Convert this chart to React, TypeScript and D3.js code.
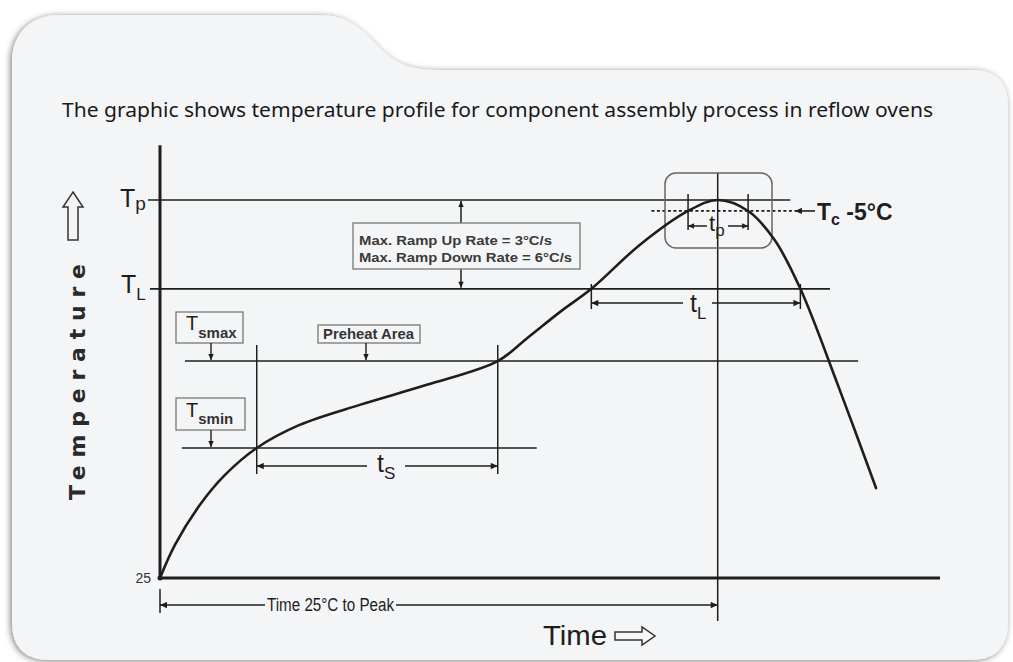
import React from 'react';
import * as d3 from 'd3';

// ---- data (abstract units: time 0..100, temperature 0..100 above 25°C) ----
const profileTime = [0, 1.9, 5.1, 8.3, 12.4, 17.9, 25.6, 34.2, 43.3, 47.1, 51.3, 55.3, 61.5, 67.7, 71.5, 75.4, 78.8, 82.1, 86.9, 91.8];
const profileTemp = [0, 8.7, 19.3, 27.2, 34.4, 40.5, 45.8, 51.1, 57.4, 63.5, 70.4, 76.5, 88.1, 97.1, 100, 97.1, 89.4, 76.5, 51.1, 23.8];

const levelNames = ['Tp', 'TL', 'Tsmax', 'Tsmin', 'Tc'];
const levelValues = [100, 76.5, 57.4, 34.4, 97.1];

const timeMarkNames = ['tsStart', 'tsEnd', 'tLStart', 'tLEnd', 'tpStart', 'tpEnd', 'peak'];
const timeMarkValues = [12.4, 43.3, 55.3, 82.1, 67.7, 75.4, 71.5];

const titleText = 'The graphic shows temperature profile for component assembly process in reflow ovens';
const rampLines = ['Max. Ramp Up Rate = 3°C/s', 'Max. Ramp Down Rate = 6°C/s'];
const baseLabel = '25';

const lv = (n: string) => levelValues[levelNames.indexOf(n)];
const tm = (n: string) => timeMarkValues[timeMarkNames.indexOf(n)];

const ARIAL = 'Liberation Sans, Arial, sans-serif';
const INK = '#1e1e1e';

export default function App() {
  const W = 1013, H = 662;
  const x = d3.scaleLinear().domain([0, 100]).range([160, 940]);
  const y = d3.scaleLinear().domain([0, 100]).range([578, 200]);

  const pts: [number, number][] = profileTime.map((t, i) => [t, profileTemp[i]]);
  const line = d3.line<[number, number]>().x(d => x(d[0])).y(d => y(d[1])).curve(d3.curveCatmullRom.alpha(0.5));

  const yTp = y(lv('Tp')), yTL = y(lv('TL')), ySmax = y(lv('Tsmax')), ySmin = y(lv('Tsmin')), yTc = y(lv('Tc'));
  const xTs0 = x(tm('tsStart')), xTs1 = x(tm('tsEnd'));
  const xTL0 = x(tm('tLStart')), xTL1 = x(tm('tLEnd'));
  const xTp0 = x(tm('tpStart')), xTp1 = x(tm('tpEnd'));
  const xPk = x(tm('peak'));
  const x0 = x(0), y0 = y(0);

  const card = 'M12,62 C12,34 30,15 60,15 L318,15 C350,15 362,30 378,46 C394,62 406,70 440,70 L972,70 Q1008,70 1008,106 L1008,622 Q1008,660 970,660 L50,660 Q12,660 12,622 Z';

  return (
    <svg width={W} height={H} style={{ position: 'absolute', left: 0, top: 0, display: 'block' }}>
      <defs>
        <filter id="shd" x="-5%" y="-5%" width="110%" height="110%">
          <feDropShadow dx="-1.5" dy="1" stdDeviation="3" floodColor="#000" floodOpacity="0.5" />
        </filter>
        <marker id="ah" viewBox="0 0 10 10" refX="10" refY="5" markerUnits="userSpaceOnUse" markerWidth="9" markerHeight="7" orient="auto-start-reverse">
          <path d="M0,0.5 L10,5 L0,9.5 z" fill={INK} />
        </marker>
        <marker id="ahs" viewBox="0 0 10 10" refX="10" refY="5" markerUnits="userSpaceOnUse" markerWidth="7" markerHeight="6" orient="auto-start-reverse">
          <path d="M0,0.5 L10,5 L0,9.5 z" fill={INK} />
        </marker>
      </defs>
      <rect width={W} height={H} fill="#ffffff" />
      <path d={card} fill="#f4f5f7" filter="url(#shd)" />

      <text x={62} y={117} fontFamily="Noto Sans, Open Sans, sans-serif" fontSize={19} fill="#1a1a1a" textLength={871} lengthAdjust="spacingAndGlyphs">{titleText}</text>

      {/* axes */}
      <line x1={x0} y1={y0 + 1} x2={x0} y2={y(114.5)} stroke={INK} strokeWidth={3} />
      <line x1={x0} y1={y0} x2={x(100)} y2={y0} stroke={INK} strokeWidth={3.2} />
      <circle cx={x0} cy={y0} r={2.5} fill={INK} />
      <text x={151} y={y0 + 5} textAnchor="end" fontFamily={ARIAL} fontSize={14} fill="#333">{baseLabel}</text>

      {/* level lines */}
      <line x1={148} y1={yTp} x2={x(80.8)} y2={yTp} stroke={INK} strokeWidth={1.6} />
      <line x1={150} y1={yTL} x2={x(85.9)} y2={yTL} stroke={INK} strokeWidth={1.6} />
      <line x1={x(3.2)} y1={ySmax} x2={x(89.5)} y2={ySmax} stroke={INK} strokeWidth={1.6} />
      <line x1={x(2.8)} y1={ySmin} x2={x(48.3)} y2={ySmin} stroke={INK} strokeWidth={1.6} />
      <line x1={x(63)} y1={yTc} x2={x(81.4)} y2={yTc} stroke={INK} strokeWidth={1.8} strokeDasharray="3,2.5" />
      <line x1={815} y1={yTc} x2={x(81.4)} y2={yTc} stroke={INK} strokeWidth={1.6} markerEnd="url(#ah)" />

      {/* level labels */}
      <text x={120} y={207} fontFamily={ARIAL} fontSize={25} fill={INK}>T<tspan fontSize={19} dy={3}>p</tspan></text>
      <text x={121} y={293} fontFamily={ARIAL} fontSize={25} fill={INK}>T<tspan fontSize={17} dy={7}>L</tspan></text>
      <text x={817} y={220} fontFamily={ARIAL} fontSize={23} fontWeight="bold" fill={INK}>T<tspan fontSize={16} dy={5}>c</tspan><tspan dy={-5}> -5°C</tspan></text>

      {/* vertical markers */}
      <line x1={xTs0} y1={345} x2={xTs0} y2={474} stroke={INK} strokeWidth={1.5} />
      <line x1={xTs1} y1={345} x2={xTs1} y2={474} stroke={INK} strokeWidth={1.5} />
      <line x1={xTL0} y1={284} x2={xTL0} y2={309} stroke={INK} strokeWidth={1.5} />
      <line x1={xTL1} y1={284} x2={xTL1} y2={309} stroke={INK} strokeWidth={1.5} />
      <line x1={xTp0} y1={194} x2={xTp0} y2={230} stroke={INK} strokeWidth={1.5} />
      <line x1={xTp1} y1={194} x2={xTp1} y2={230} stroke={INK} strokeWidth={1.5} />
      <line x1={xPk} y1={173} x2={xPk} y2={621} stroke={INK} strokeWidth={1.5} />
      <line x1={x0} y1={589} x2={x0} y2={613} stroke={INK} strokeWidth={1.5} />

      {/* peak box */}
      <rect x={665} y={173} width={107} height={75} rx={11} fill="none" stroke="#666" strokeWidth={1.5} />

      {/* dimension arrows */}
      <line x1={367} y1={466} x2={xTs0} y2={466} stroke={INK} strokeWidth={1.5} markerEnd="url(#ah)" />
      <line x1={405} y1={466} x2={xTs1} y2={466} stroke={INK} strokeWidth={1.5} markerEnd="url(#ah)" />
      <text x={377} y={472} fontFamily={ARIAL} fontSize={25} fill={INK}>t<tspan fontSize={17} dy={7}>S</tspan></text>

      <line x1={683} y1={303} x2={xTL0} y2={303} stroke={INK} strokeWidth={1.5} markerEnd="url(#ah)" />
      <line x1={712} y1={303} x2={xTL1} y2={303} stroke={INK} strokeWidth={1.5} markerEnd="url(#ah)" />
      <text x={690} y={312} fontFamily={ARIAL} fontSize={25} fill={INK}>t<tspan fontSize={17} dy={7}>L</tspan></text>

      <line x1={707} y1={226} x2={xTp0} y2={226} stroke={INK} strokeWidth={1.5} markerEnd="url(#ahs)" />
      <line x1={728} y1={226} x2={xTp1} y2={226} stroke={INK} strokeWidth={1.5} markerEnd="url(#ahs)" />
      <text x={709} y={231} fontFamily={ARIAL} fontSize={22} fill={INK}>t<tspan fontSize={17} dy={5}>p</tspan></text>

      <line x1={265} y1={605} x2={x0} y2={605} stroke={INK} strokeWidth={1.5} markerEnd="url(#ah)" />
      <line x1={396} y1={605} x2={xPk} y2={605} stroke={INK} strokeWidth={1.5} markerEnd="url(#ah)" />
      <text x={267} y={611} fontFamily={ARIAL} fontSize={18} fill={INK} textLength={127} lengthAdjust="spacingAndGlyphs">Time 25°C to Peak</text>

      {/* ramp box */}
      <line x1={461} y1={223} x2={461} y2={yTp + 1} stroke={INK} strokeWidth={1.5} markerEnd="url(#ahs)" />
      <line x1={461} y1={269} x2={461} y2={yTL - 1} stroke={INK} strokeWidth={1.5} markerEnd="url(#ahs)" />
      <rect x={353} y={223} width={227} height={46} fill="#f4f5f7" stroke="#777" strokeWidth={1.3} />
      <text x={359} y={245} fontFamily={ARIAL} fontSize={13.5} fontWeight="bold" fill="#3a3a3a" textLength={193} lengthAdjust="spacingAndGlyphs">{rampLines[0]}</text>
      <text x={359} y={262} fontFamily={ARIAL} fontSize={13.5} fontWeight="bold" fill="#3a3a3a" textLength={213} lengthAdjust="spacingAndGlyphs">{rampLines[1]}</text>

      {/* Tsmax / Preheat / Tsmin boxes */}
      <rect x={176} y={312} width={67} height={31} fill="#f4f5f7" stroke="#777" strokeWidth={1.3} />
      <text x={186} y={330} fontFamily={ARIAL} fontSize={20} fill={INK}>T<tspan fontSize={15} dy={8} fontWeight="bold" fill="#333">smax</tspan></text>
      <line x1={211} y1={343} x2={211} y2={ySmax - 1} stroke={INK} strokeWidth={1.4} markerEnd="url(#ahs)" />

      <rect x={318} y={325} width={102} height={18} fill="#f4f5f7" stroke="#777" strokeWidth={1.3} />
      <text x={323} y={339} fontFamily={ARIAL} fontSize={14} fontWeight="bold" fill="#333" textLength={91} lengthAdjust="spacingAndGlyphs">Preheat Area</text>
      <line x1={366} y1={343} x2={366} y2={ySmax - 1} stroke={INK} strokeWidth={1.4} markerEnd="url(#ahs)" />

      <rect x={176} y={398} width={69} height={32} fill="#f4f5f7" stroke="#777" strokeWidth={1.3} />
      <text x={186} y={417} fontFamily={ARIAL} fontSize={20} fill={INK}>T<tspan fontSize={15} dy={7} fontWeight="bold" fill="#333">smin</tspan></text>
      <line x1={211} y1={430} x2={211} y2={ySmin - 1} stroke={INK} strokeWidth={1.4} markerEnd="url(#ahs)" />

      {/* profile curve */}
      <path d={line(pts) || ''} fill="none" stroke={INK} strokeWidth={2.6} strokeLinecap="round" />

      {/* axis titles */}
      <text transform="translate(85,382) rotate(-90)" textAnchor="middle" fontFamily="DejaVu Sans, Verdana, sans-serif" fontSize={22} fontWeight="bold" fill="#2a2a2a" textLength={236} lengthAdjust="spacing">Temperature</text>
      <path d="M73,192 L83,207 L78,207 L78,240 L68,240 L68,207 L63,207 Z" fill="none" stroke="#333" strokeWidth={1.5} strokeLinejoin="miter" />

      <text x={543} y={645} fontFamily={ARIAL} fontSize={28} fill={INK} textLength={64} lengthAdjust="spacingAndGlyphs">Time</text>
      <path d="M615,632 L642,632 L642,627 L655,636 L642,645 L642,640 L615,640 Z" fill="none" stroke="#333" strokeWidth={1.5} />
    </svg>
  );
}
